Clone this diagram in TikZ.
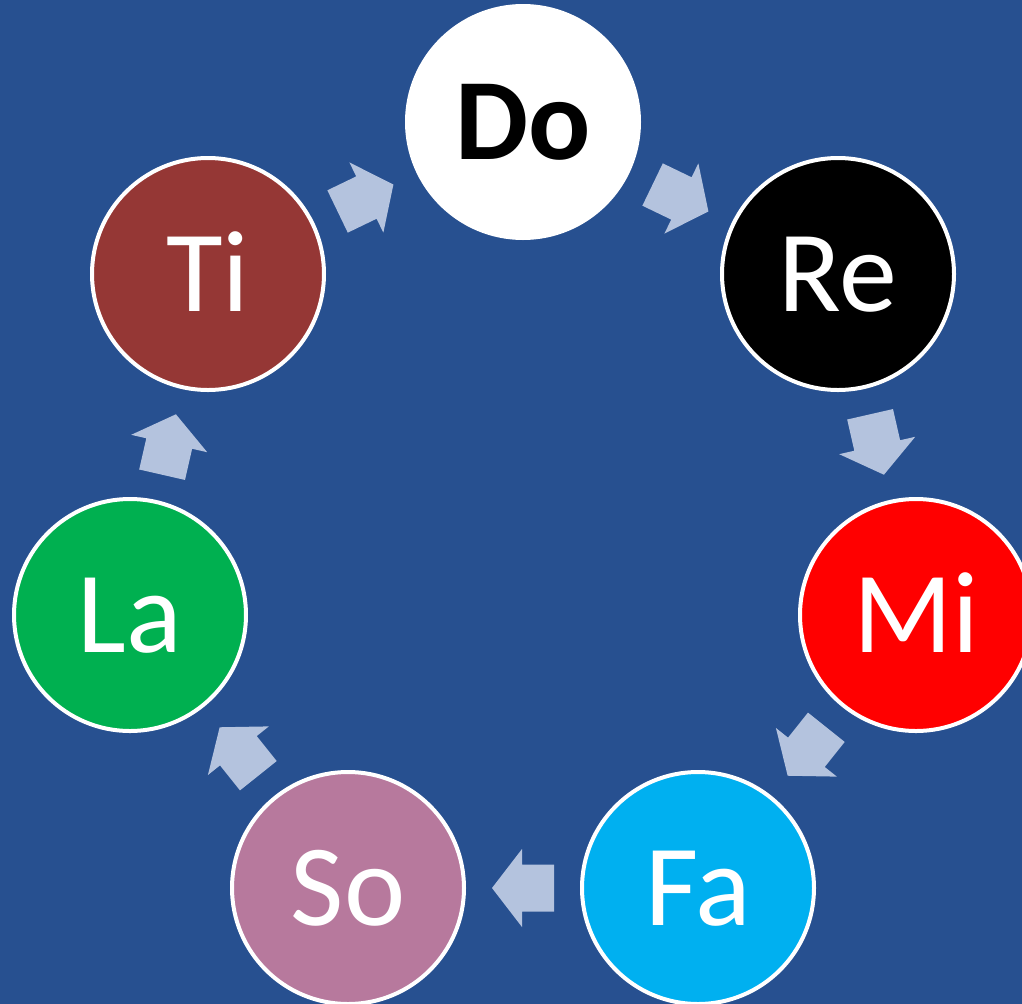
\documentclass[tikz,border=0pt]{standalone}
\usepackage{fontspec}
\setmainfont{Carlito}
\usetikzlibrary{calc}
\definecolor{bg}{RGB}{39,80,144}
\definecolor{arrowfill}{RGB}{180,195,222}
\definecolor{cRe}{RGB}{0,0,0}
\definecolor{cMi}{RGB}{255,0,0}
\definecolor{cFa}{RGB}{0,176,240}
\definecolor{cSo}{RGB}{183,121,157}
\definecolor{cLa}{RGB}{0,176,80}
\definecolor{cTi}{RGB}{149,55,53}
\tikzset{
  note/.style={circle, draw=white, line width=3pt, minimum size=174pt, inner sep=0pt,
    font=\fontsize{87}{87}\selectfont, text=white, text height=56pt, text depth=0pt},
  blockarrow/.pic={\fill[arrowfill] (-31,-23.5) -- (1,-23.5) -- (1,-39) -- (31,0) -- (1,39) -- (1,23.5) -- (-31,23.5) -- cycle;}
}
\begin{document}
\begin{tikzpicture}[x=0.75pt,y=-0.75pt]
\useasboundingbox (0,0) rectangle (1022,1004);
\clip (0,0) rectangle (1022,1004);
\fill[bg] (0,0) rectangle (1022,1004);
\node[note, fill=white, text=black, font=\fontsize{87}{87}\selectfont\bfseries] (do) at (523,122) {Do};
\node[note, fill=cRe] (re) at (838,274) {Re};
\node[note, fill=cMi] (mi) at (916,615) {Mi};
\node[note, fill=cFa] (fa) at (698,888) {Fa};
\node[note, fill=cSo] (so) at (348,888) {So};
\node[note, fill=cLa] (la) at (130,615) {La};
\node[note, fill=cTi] (ti) at (208,274) {Ti};
\foreach \a/\b in {do/re, re/mi, mi/fa, fa/so, so/la, la/ti, ti/do} {
  \path let \p1 = ($(\b)-(\a)$), \n1 = {atan2(\y1,\x1)} in
    pic[rotate=\n1] at ($(\a)!0.5!(\b)$) {blockarrow};
}
\end{tikzpicture}
\end{document}
